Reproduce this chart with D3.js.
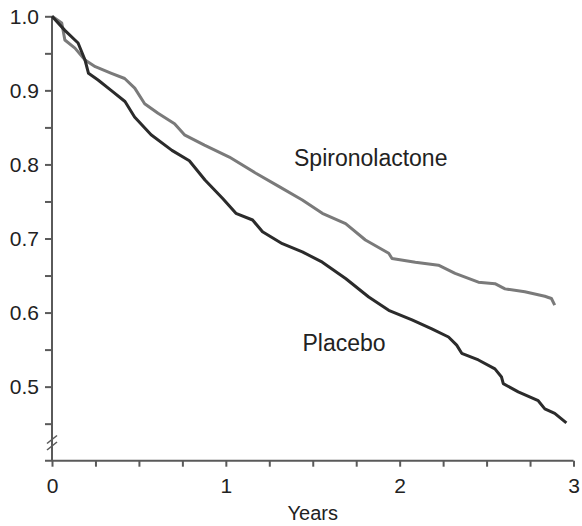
<!DOCTYPE html>
<html>
<head>
<meta charset="utf-8">
<script src="https://cdn.jsdelivr.net/npm/d3@7"></script>
<style>
  body { margin: 0; background: #fff; }
  text { font-family: "Liberation Sans", Arial, sans-serif; fill: #222; }
</style>
</head>
<body>
<div id="chart"></div>
<script>
// survival curves: [years, proportion]
var placebo = [
  [0, 1.0], [0.074, 0.981], [0.15, 0.964], [0.19, 0.941], [0.21, 0.923],
  [0.265, 0.914], [0.34, 0.900], [0.42, 0.885], [0.475, 0.864], [0.57, 0.840],
  [0.69, 0.819], [0.79, 0.805], [0.88, 0.779], [0.982, 0.754], [1.058, 0.734],
  [1.154, 0.725], [1.211, 0.709], [1.325, 0.693], [1.44, 0.682], [1.555, 0.668],
  [1.689, 0.646], [1.822, 0.621], [1.937, 0.603], [2.071, 0.590], [2.185, 0.578],
  [2.281, 0.567], [2.328, 0.556], [2.357, 0.545], [2.453, 0.536], [2.548, 0.524],
  [2.586, 0.513], [2.596, 0.504], [2.682, 0.493], [2.797, 0.481], [2.835, 0.470],
  [2.892, 0.464], [2.959, 0.451]
];
var spironolactone = [
  [0, 1.0], [0.056, 0.991], [0.074, 0.968], [0.132, 0.957], [0.19, 0.941],
  [0.249, 0.932], [0.342, 0.923], [0.418, 0.916], [0.476, 0.903], [0.533, 0.882],
  [0.61, 0.869], [0.705, 0.855], [0.762, 0.840], [0.877, 0.826], [1.02, 0.810],
  [1.173, 0.788], [1.307, 0.770], [1.44, 0.752], [1.555, 0.734], [1.689, 0.720],
  [1.803, 0.698], [1.937, 0.680], [1.956, 0.673], [2.09, 0.668], [2.223, 0.664],
  [2.319, 0.653], [2.453, 0.641], [2.548, 0.639], [2.606, 0.632], [2.72, 0.628],
  [2.835, 0.622], [2.873, 0.619], [2.892, 0.610]
];
var yTickLabels = [0.5, 0.6, 0.7, 0.8, 0.9, 1.0];
var xTickLabels = [0, 1, 2, 3];
var seriesNames = ["Spironolactone", "Placebo"];

var width = 582, height = 526;

var svg = d3.select("#chart").append("svg")
  .attr("width", width)
  .attr("height", height);

var x = d3.scaleLinear().domain([0, 3]).range([52, 573.5]);
var y = d3.scaleLinear().domain([0.4, 1.0]).range([460.7, 16.3]);

// y axis, minor ticks every 0.05
var yAxis = d3.axisLeft(y)
  .tickValues(d3.range(0.45, 1.001, 0.05))
  .tickSize(7)
  .tickPadding(6)
  .tickFormat(function (d) {
    var r = Math.round(d * 10) / 10;
    return yTickLabels.some(function (v) { return Math.abs(v - d) < 1e-6; }) ? r.toFixed(1) : "";
  });

var gy = svg.append("g")
  .attr("transform", "translate(" + x(0) + ",0)")
  .call(yAxis);
gy.select(".domain").attr("d", "M0," + y(1.0) + "V" + y(0.4));

// x axis, minor ticks every quarter year
var xAxis = d3.axisBottom(x)
  .tickValues(d3.range(0, 3.001, 0.25))
  .tickSize(6)
  .tickPadding(8)
  .tickFormat(function (d) { return xTickLabels.indexOf(d) >= 0 ? d : ""; });

var gx = svg.append("g")
  .attr("transform", "translate(0," + y(0.4) + ")")
  .call(xAxis);
gx.select(".domain").attr("d", "M" + (x(0) - 7) + ",0H" + x(3));

svg.selectAll(".domain, .tick line")
  .attr("stroke", "#5a5a5a")
  .attr("stroke-width", 2);
svg.selectAll(".tick text")
  .attr("font-size", 21)
  .attr("fill", "#222");
gx.selectAll(".tick text").attr("dy", "0.85em");

// axis break marks
var brk = svg.append("g").attr("stroke", "#5a5a5a").attr("stroke-width", 1.6);
brk.append("line").attr("x1", x(0) - 5).attr("y1", 443.5).attr("x2", x(0) + 5).attr("y2", 435.5);
brk.append("line").attr("x1", x(0) - 5).attr("y1", 450).attr("x2", x(0) + 5).attr("y2", 442);

svg.append("text")
  .attr("x", (x(0) + x(3)) / 2)
  .attr("y", 520)
  .attr("text-anchor", "middle")
  .attr("font-size", 20)
  .text("Years");

var line = d3.line()
  .x(function (d) { return x(d[0]); })
  .y(function (d) { return y(d[1]); });

svg.append("path")
  .datum(spironolactone)
  .attr("d", line)
  .attr("fill", "none")
  .attr("stroke", "#7a7a7a")
  .attr("stroke-width", 3)
  .attr("stroke-linejoin", "round");

svg.append("path")
  .datum(placebo)
  .attr("d", line)
  .attr("fill", "none")
  .attr("stroke", "#2b2b2b")
  .attr("stroke-width", 3)
  .attr("stroke-linejoin", "round");

svg.append("text")
  .attr("x", 294)
  .attr("y", 166)
  .attr("font-size", 23)
  .text(seriesNames[0]);

svg.append("text")
  .attr("x", 302.5)
  .attr("y", 351)
  .attr("font-size", 23)
  .text(seriesNames[1]);
</script>
</body>
</html>
